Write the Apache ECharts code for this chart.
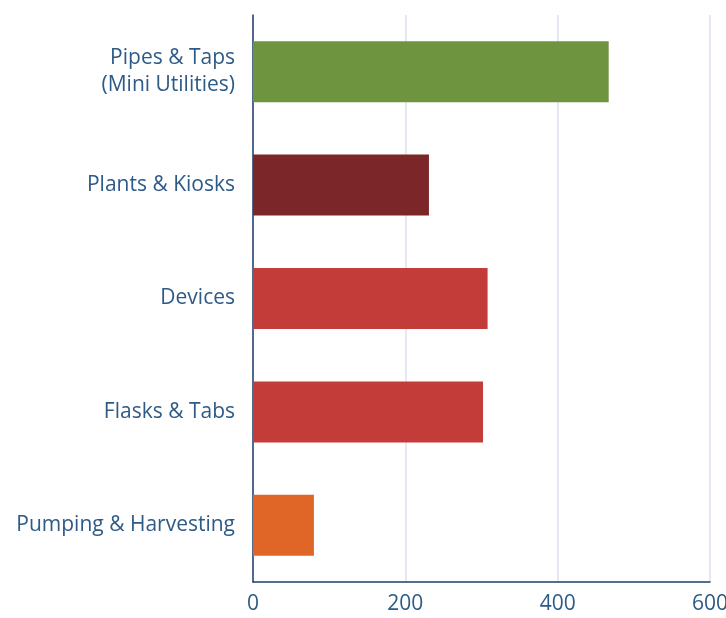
<!DOCTYPE html>
<html><head><meta charset="utf-8">
<script src="https://cdn.jsdelivr.net/npm/echarts@6/dist/echarts.min.js"></script>
<style>html,body{margin:0;padding:0;background:#fff}#c{width:726px;height:618px}</style>
</head><body><div id="c"></div>
<script>
const categories = ["Pipes & Taps\n(Mini Utilities)", "Plants & Kiosks", "Devices", "Flasks & Tabs", "Pumping & Harvesting"];
const values = [467, 231, 308, 302, 80];
const colors = ["#6e9440", "#7b2628", "#c33c3a", "#c33c3a", "#e06628"];
const xTicks = [0, 200, 400, 600];

const chart = echarts.init(document.getElementById('c'));
const textColor = '#2d5a87';
chart.setOption({
  animation: false,
  grid: { left: 253, right: 16, top: 15, bottom: 36, containLabel: false, outerBoundsMode: 'none' },
  xAxis: {
    type: 'value', min: xTicks[0], max: xTicks[xTicks.length - 1], interval: 200,
    axisLine: { show: true, lineStyle: { color: '#1f3f6a', width: 1.5 } },
    axisTick: { show: false },
    splitLine: { show: true, lineStyle: { color: '#dde1ee', width: 1.5 } },
    axisLabel: { color: textColor, fontFamily: 'Open Sans', fontSize: 21, margin: 12 }
  },
  yAxis: {
    type: 'category', data: categories, inverse: true,
    axisLine: { show: true, lineStyle: { color: '#1f3f6a', width: 1.5 } },
    axisTick: { show: false },
    axisLabel: { color: textColor, fontFamily: 'Open Sans', fontSize: 21, margin: 18, lineHeight: 27, align: 'right' }
  },
  series: [{
    type: 'bar', barWidth: 61,
    data: values.map((v, i) => ({ value: v, itemStyle: { color: colors[i] } }))
  }]
});
</script></body></html>
